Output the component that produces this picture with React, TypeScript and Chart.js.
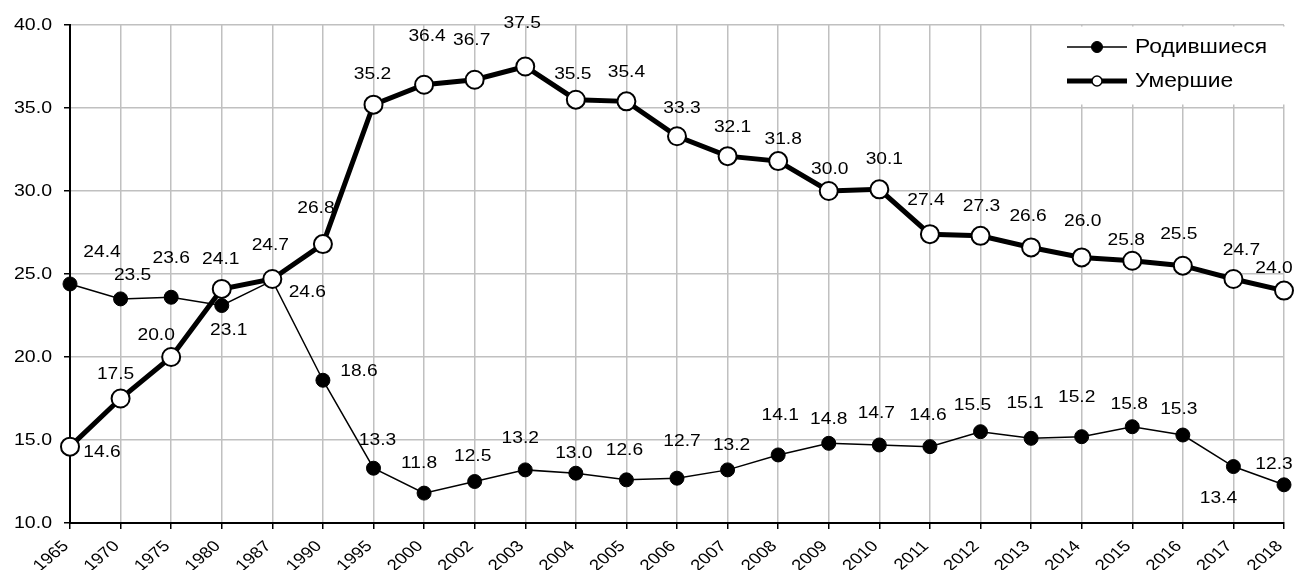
import React, { useEffect, useRef } from "react";
import { Chart, registerables } from "chart.js";

Chart.register(...registerables);

const years = ["1965","1970","1975","1980","1987","1990","1995","2000","2002","2003","2004","2005","2006","2007","2008","2009","2010","2011","2012","2013","2014","2015","2016","2017","2018"];

const births = [24.4,23.5,23.6,23.1,24.6,18.6,13.3,11.8,12.5,13.2,13.0,12.6,12.7,13.2,14.1,14.8,14.7,14.6,15.5,15.1,15.2,15.8,15.3,13.4,12.3];

const deaths = [14.6,17.5,20.0,24.1,24.7,26.8,35.2,36.4,36.7,37.5,35.5,35.4,33.3,32.1,31.8,30.0,30.1,27.4,27.3,26.6,26.0,25.8,25.5,24.7,24.0];

const seriesNames = ["Родившиеся", "Умершие"];

// label placement offsets [dx, dy] relative to each point
const birthLabelOffsets = [[32,-31],[12,-23],[0,-39],[7,25],[35,12],[36,-9],[4,-28],[-5,-30],[-2,-25],[-5,-31],[-2,-20],[-2,-29],[5,-37],[4,-24],[2,-39],[0,-24],[-3,-31],[-2,-31],[-8,-26],[-6,-35],[-5,-39],[-3,-22],[-4,-25],[-15,32],[-10,-20]];
const deathLabelOffsets = [[32,6],[-5,-24],[-15,-21],[-1,-29],[-2,-33],[-7,-36],[-1,-30],[3,-48],[-3,-39],[-3,-43],[-3,-25],[0,-29],[5,-28],[5,-29],[5,-22],[1,-21],[5,-30],[-4,-34],[1,-29],[-3,-31],[1,-36],[-6,-20],[-4,-31],[8,-28],[-10,-22]];

const FONT = "'Liberation Sans', Arial, sans-serif";
const SX = 1.2;

function stretchedText(ctx: any, text: string, x: number, y: number, align: string, sx: number, rot = 0) {
  ctx.save();
  ctx.translate(x, y);
  ctx.scale(sx, 1);
  if (rot) ctx.rotate(rot);
  ctx.textAlign = align;
  ctx.fillText(text, 0, 0);
  ctx.restore();
}

const axisTextPlugin = {
  id: "axisText",
  afterDraw(chart: any) {
    const ctx = chart.ctx;
    const xs = chart.scales.x;
    const ys = chart.scales.y;
    ctx.save();
    ctx.fillStyle = "#000";
    ctx.textBaseline = "middle";
    ctx.font = `16px ${FONT}`;
    ys.ticks.forEach((t: any) => {
      const y = ys.getPixelForValue(t.value);
      stretchedText(ctx, Number(t.value).toFixed(1), ys.right - 18, y + 1, "right", 1.22);
    });
    ctx.font = `15.5px ${FONT}`;
    xs.ticks.forEach((t: any, i: number) => {
      const x = xs.getPixelForTick(i);
      stretchedText(ctx, String(xs.getLabelForValue(t.value)), x - 4, xs.top + 21, "right", 1.2, -Math.PI / 4);
    });
    ctx.restore();
  },
};

const labelsPlugin = {
  id: "valueLabels",
  afterDatasetsDraw(chart: any) {
    const ctx = chart.ctx;
    const offsets = [birthLabelOffsets, deathLabelOffsets];
    ctx.save();
    ctx.font = `16px ${FONT}`;
    ctx.fillStyle = "#000";
    ctx.textBaseline = "middle";
    chart.data.datasets.forEach((ds: any, di: number) => {
      const meta = chart.getDatasetMeta(di);
      meta.data.forEach((pt: any, i: number) => {
        const o = offsets[di][i];
        stretchedText(ctx, Number(ds.data[i]).toFixed(1), pt.x + o[0], pt.y + o[1], "center", SX);
      });
    });
    ctx.restore();
  },
};

const legendPlugin = {
  id: "boxLegend",
  afterDraw(chart: any) {
    const ctx = chart.ctx;
    ctx.save();
    ctx.fillStyle = "#fff";
    ctx.fillRect(1060, 26.5, 228, 78);
    const rows = [
      { y: 47, lw: 1.5, fill: "#000", r: 5.5, bw: 1 },
      { y: 81, lw: 5, fill: "#fff", r: 5, bw: 1.5 },
    ];
    rows.forEach((row, i) => {
      ctx.strokeStyle = "#000";
      ctx.lineWidth = row.lw;
      ctx.beginPath();
      ctx.moveTo(1067, row.y);
      ctx.lineTo(1127, row.y);
      ctx.stroke();
      ctx.beginPath();
      ctx.arc(1097, row.y, row.r, 0, Math.PI * 2);
      ctx.fillStyle = row.fill;
      ctx.fill();
      ctx.lineWidth = row.bw;
      ctx.stroke();
      ctx.fillStyle = "#000";
      ctx.font = `19.5px ${FONT}`;
      ctx.textBaseline = "middle";
      stretchedText(ctx, seriesNames[i], 1135, row.y + 1, "left", 1.17);
    });
    ctx.restore();
  },
};

export default function App() {
  const ref = useRef<HTMLCanvasElement | null>(null);
  useEffect(() => {
    if (!ref.current) return;
    const chart = new Chart(ref.current, {
      type: "line",
      data: {
        labels: years,
        datasets: [
          {
            label: seriesNames[0],
            data: births,
            borderColor: "#000",
            borderWidth: 1.5,
            pointRadius: 7,
            pointBackgroundColor: "#000",
            pointBorderColor: "#000",
            pointBorderWidth: 1,
            tension: 0,
            order: 1,
          },
          {
            label: seriesNames[1],
            data: deaths,
            borderColor: "#000",
            borderWidth: 5,
            pointRadius: 9,
            pointBackgroundColor: "#fff",
            pointBorderColor: "#000",
            pointBorderWidth: 2,
            tension: 0,
            order: 0,
          },
        ],
      },
      options: {
        responsive: false,
        animation: false,
        layout: { padding: { top: 25, right: 6, left: 0, bottom: 0 } },
        plugins: {
          legend: { display: false },
          tooltip: { enabled: false },
        },
        scales: {
          x: {
            type: "category",
            offset: false,
            grid: { color: "#c0c0c0", lineWidth: 1.5, tickColor: "#000", tickLength: 6, tickWidth: 1.5 },
            border: { color: "#000", width: 2 },
            ticks: { display: false, autoSkip: false, maxRotation: 0 },
            afterFit(scale: any) {
              scale.height = 47;
              scale.paddingLeft = 0;
              scale.paddingRight = 0;
            },
          },
          y: {
            min: 10,
            max: 40,
            grid: { color: "#c0c0c0", lineWidth: 1.5, tickColor: "#000", tickLength: 6, tickWidth: 1.5 },
            border: { color: "#000", width: 2 },
            ticks: { display: false, stepSize: 5 },
            afterFit(scale: any) {
              scale.width = 70;
              scale.paddingTop = 0;
              scale.paddingBottom = 0;
            },
          },
        },
      },
      plugins: [labelsPlugin, axisTextPlugin, legendPlugin],
    });
    return () => chart.destroy();
  }, []);
  return (
    <div style={{ position: "fixed", left: 0, top: 0, width: 1295, height: 570, background: "#fff" }}>
      <canvas ref={ref} width={1295} height={570} style={{ display: "block" }} />
    </div>
  );
}
